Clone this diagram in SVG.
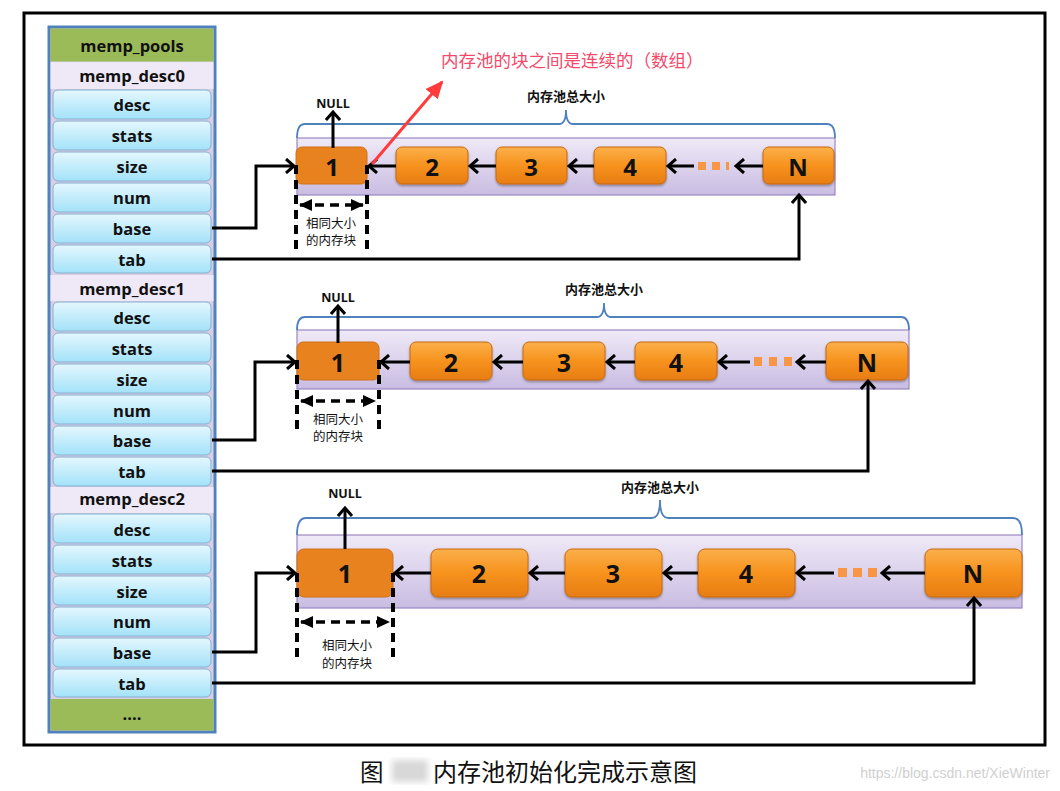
<svg xmlns="http://www.w3.org/2000/svg" width="1060" height="791" viewBox="0 0 1060 791">
<defs>
<style>
.lbl{font-family:"Open Sans","Liberation Sans",sans-serif;font-weight:bold;font-size:16.5px;fill:#111;text-anchor:middle;dominant-baseline:central}
.cell{fill:url(#gCell);stroke:#86aecf;stroke-width:1}
.hdr{fill:#efe8f6}
.grn{fill:#9bbb59}
.band{fill:url(#gBand);stroke:#9a86c2;stroke-width:1.2}
.brace{fill:none;stroke:#4f81bd;stroke-width:1.8}
.blk{fill:url(#gBlk);stroke:#c8690e;stroke-width:1;filter:url(#sh)}
.blk1{fill:#e8821f;stroke:#d07016;stroke-width:1}
.num{font-family:"Open Sans","Liberation Sans",sans-serif;font-weight:bold;fill:#111;text-anchor:middle;dominant-baseline:central}
.null{font-family:"Open Sans","Liberation Sans",sans-serif;font-weight:bold;font-size:12.5px;fill:#111;text-anchor:middle}
.tot{font-family:"Noto Sans CJK SC",sans-serif;font-weight:bold;font-size:13px;fill:#111;text-anchor:middle}
.same{font-family:"Noto Sans CJK SC",sans-serif;font-size:12.5px;fill:#111;text-anchor:middle}
.arr{fill:none;stroke:#000;stroke-width:3;marker-end:url(#ah)}
.dv{fill:none;stroke:#000;stroke-width:4;stroke-dasharray:9,6}
.dh{fill:none;stroke:#000;stroke-width:3.5;stroke-dasharray:9,6}
.dot{fill:#f79646}
</style>
<linearGradient id="gCell" x1="0" y1="0" x2="0" y2="1"><stop offset="0" stop-color="#e4f7fe"/><stop offset="1" stop-color="#a3e2f9"/></linearGradient>
<linearGradient id="gBand" x1="0" y1="0" x2="0" y2="1"><stop offset="0" stop-color="#efeaf7"/><stop offset="1" stop-color="#c9bce2"/></linearGradient>
<linearGradient id="gBlk" x1="0" y1="0" x2="0" y2="1"><stop offset="0" stop-color="#fbb04a"/><stop offset="0.5" stop-color="#f7921e"/><stop offset="1" stop-color="#e67d12"/></linearGradient>
<filter id="sh" x="-10%" y="-10%" width="120%" height="130%"><feDropShadow dx="0" dy="1.5" stdDeviation="1.2" flood-color="#000" flood-opacity="0.35"/></filter>
<filter id="blur"><feGaussianBlur stdDeviation="3"/></filter>
<marker id="ah" markerUnits="userSpaceOnUse" markerWidth="16" markerHeight="16" refX="10" refY="8" orient="auto"><path d="M2,1 L10,8 L2,15" fill="none" stroke="#000" stroke-width="3"/></marker>
<marker id="tri" markerUnits="userSpaceOnUse" markerWidth="14" markerHeight="14" refX="12" refY="7" orient="auto-start-reverse"><path d="M0,1 L13,7 L0,13 Z" fill="#000"/></marker>
<marker id="red" markerUnits="userSpaceOnUse" markerWidth="20" markerHeight="20" refX="16" refY="10" orient="auto"><path d="M0,2 L18,10 L0,18 Z" fill="#ff3b3b"/></marker>
</defs>
<rect x="0" y="0" width="1060" height="791" fill="#fff"/>
<rect x="24" y="13" width="1021" height="732" fill="#fff" stroke="#000" stroke-width="3"/>

<g id="memp_pools">
<rect x="49" y="27" width="166" height="705" fill="#d9cfe5" stroke="#4f81bd" stroke-width="3"/>
<rect class="grn" x="50.5" y="28.5" width="163" height="33"/>
<text class="lbl" x="132" y="45">memp_pools</text>
<rect class="hdr" x="50.5" y="62" width="163" height="27"/>
<text class="lbl" x="132" y="75">memp_desc0</text>
<rect class="cell" x="53" y="90" width="158" height="29" rx="5"/><text class="lbl" x="132" y="104">desc</text>
<rect class="cell" x="53" y="121" width="158" height="29" rx="5"/><text class="lbl" x="132" y="135">stats</text>
<rect class="cell" x="53" y="152" width="158" height="29" rx="5"/><text class="lbl" x="132" y="166">size</text>
<rect class="cell" x="53" y="183" width="158" height="29" rx="5"/><text class="lbl" x="132" y="197">num</text>
<rect class="cell" x="53" y="214" width="158" height="29" rx="5"/><text class="lbl" x="132" y="228">base</text>
<rect class="cell" x="53" y="245" width="158" height="28" rx="5"/><text class="lbl" x="132" y="259">tab</text>
<rect class="hdr" x="50.5" y="275" width="163" height="26"/>
<text class="lbl" x="132" y="288">memp_desc1</text>
<rect class="cell" x="53" y="302" width="158" height="29" rx="5"/><text class="lbl" x="132" y="317">desc</text>
<rect class="cell" x="53" y="333" width="158" height="29" rx="5"/><text class="lbl" x="132" y="348">stats</text>
<rect class="cell" x="53" y="364" width="158" height="29" rx="5"/><text class="lbl" x="132" y="379">size</text>
<rect class="cell" x="53" y="395" width="158" height="29" rx="5"/><text class="lbl" x="132" y="410">num</text>
<rect class="cell" x="53" y="426" width="158" height="29" rx="5"/><text class="lbl" x="132" y="440">base</text>
<rect class="cell" x="53" y="457" width="158" height="29" rx="5"/><text class="lbl" x="132" y="471">tab</text>
<rect class="hdr" x="50.5" y="487" width="163" height="26"/>
<text class="lbl" x="132" y="498">memp_desc2</text>
<rect class="cell" x="53" y="514" width="158" height="29" rx="5"/><text class="lbl" x="132" y="529">desc</text>
<rect class="cell" x="53" y="545" width="158" height="29" rx="5"/><text class="lbl" x="132" y="560">stats</text>
<rect class="cell" x="53" y="576" width="158" height="29" rx="5"/><text class="lbl" x="132" y="591">size</text>
<rect class="cell" x="53" y="607" width="158" height="29" rx="5"/><text class="lbl" x="132" y="621">num</text>
<rect class="cell" x="53" y="638" width="158" height="29" rx="5"/><text class="lbl" x="132" y="652">base</text>
<rect class="cell" x="53" y="669" width="158" height="28" rx="5"/><text class="lbl" x="132" y="683">tab</text>
<rect class="grn" x="50.5" y="699" width="163" height="31.5"/>
<text class="lbl" x="132" y="713">....</text>
</g>

<g id="pool0">
<rect class="band" x="297" y="138" width="538" height="57"/>
<path class="brace" d="M297,138 Q297,124 305,124 L559,124 Q566,124 566,110 Q566,124 573,124 L827,124 Q835,124 835,138"/>
<text class="tot" x="566" y="101">内存池总大小</text>
<rect class="blk1" x="296" y="147" width="71" height="37" rx="6"/><text class="num" x="332" y="166" font-size="24">1</text>
<rect class="blk" x="396" y="147" width="72" height="37" rx="6"/><text class="num" x="432" y="166" font-size="24">2</text>
<rect class="blk" x="496" y="147" width="71" height="37" rx="6"/><text class="num" x="531" y="166" font-size="24">3</text>
<rect class="blk" x="594" y="147" width="72" height="37" rx="6"/><text class="num" x="630" y="166" font-size="24">4</text>
<rect class="blk" x="763" y="147" width="71" height="37" rx="6"/><text class="num" x="798" y="166" font-size="24">N</text>
<rect class="dot" x="698" y="162" width="8" height="8"/><rect class="dot" x="712" y="162" width="8" height="8"/><rect class="dot" x="726" y="162" width="3" height="8"/>
<text class="null" x="333" y="108">NULL</text>
<text class="same" x="331" y="228">相同大小</text>
<text class="same" x="331" y="245">的内存块</text>
</g>

<g id="pool1">
<rect class="band" x="297" y="330" width="612" height="59"/>
<path class="brace" d="M297,330 Q297,317 305,317 L597,317 Q604,317 604,303 Q604,317 611,317 L901,317 Q909,317 909,330"/>
<text class="tot" x="604" y="294">内存池总大小</text>
<rect class="blk1" x="297" y="342" width="82" height="38" rx="6"/><text class="num" x="338" y="362" font-size="25">1</text>
<rect class="blk" x="410" y="342" width="82" height="38" rx="6"/><text class="num" x="451" y="362" font-size="25">2</text>
<rect class="blk" x="523" y="342" width="82" height="38" rx="6"/><text class="num" x="564" y="362" font-size="25">3</text>
<rect class="blk" x="635" y="342" width="82" height="38" rx="6"/><text class="num" x="676" y="362" font-size="25">4</text>
<rect class="blk" x="826" y="342" width="82" height="38" rx="6"/><text class="num" x="867" y="362" font-size="25">N</text>
<rect class="dot" x="754" y="357" width="8" height="9"/><rect class="dot" x="769" y="357" width="8" height="9"/><rect class="dot" x="784" y="357" width="8" height="9"/>
<text class="null" x="338" y="302">NULL</text>
<text class="same" x="338" y="424">相同大小</text>
<text class="same" x="338" y="441">的内存块</text>
</g>

<g id="pool2">
<rect class="band" x="297" y="535" width="725" height="73"/>
<path class="brace" d="M297,535 Q297,518 306,518 L652,518 Q660,518 660,500 Q660,518 668,518 L1013,518 Q1022,518 1022,535"/>
<text class="tot" x="660" y="492">内存池总大小</text>
<rect class="blk1" x="297" y="549" width="96" height="48" rx="7"/><text class="num" x="345" y="573" font-size="25">1</text>
<rect class="blk" x="431" y="549" width="97" height="48" rx="7"/><text class="num" x="479" y="573" font-size="25">2</text>
<rect class="blk" x="565" y="549" width="97" height="48" rx="7"/><text class="num" x="613" y="573" font-size="25">3</text>
<rect class="blk" x="698" y="549" width="97" height="48" rx="7"/><text class="num" x="746" y="573" font-size="25">4</text>
<rect class="blk" x="925" y="549" width="97" height="48" rx="7"/><text class="num" x="973" y="573" font-size="25">N</text>
<rect class="dot" x="838" y="568" width="9" height="9"/><rect class="dot" x="853" y="568" width="9" height="9"/><rect class="dot" x="868" y="568" width="9" height="9"/>
<text class="null" x="345" y="498">NULL</text>
<text class="same" x="347" y="650">相同大小</text>
<text class="same" x="347" y="668">的内存块</text>
</g>

<g id="connectors">
<path class="arr" d="M333,148 V112"/>
<path class="arr" d="M396,166 H369"/>
<path class="arr" d="M496,166 H470"/>
<path class="arr" d="M594,166 H569"/>
<path class="arr" d="M694,166 H668"/>
<path class="arr" d="M763,166 H736"/>
<path class="arr" d="M212,228 H256 V166 H294"/>
<path class="arr" d="M212,259 H799 V195"/>
<path class="dv" d="M296,165 V250"/><path class="dv" d="M367,165 V250"/>
<path class="dh" d="M300,205 H363" marker-start="url(#tri)" marker-end="url(#tri)"/>
<path d="M372,164 L442,82" stroke="#ff3b3b" stroke-width="3" fill="none" marker-end="url(#red)"/>
<path class="arr" d="M338,343 V306"/>
<path class="arr" d="M410,362 H381"/>
<path class="arr" d="M523,362 H494"/>
<path class="arr" d="M635,362 H607"/>
<path class="arr" d="M750,362 H719"/>
<path class="arr" d="M826,362 H797"/>
<path class="arr" d="M212,440 H255 V362 H295"/>
<path class="arr" d="M212,471 H868 V381"/>
<path class="dv" d="M297,360 V432"/><path class="dv" d="M379,360 V432"/>
<path class="dh" d="M301,401 H375" marker-start="url(#tri)" marker-end="url(#tri)"/>
<path class="arr" d="M345,549 V508"/>
<path class="arr" d="M431,573 H395"/>
<path class="arr" d="M565,573 H530"/>
<path class="arr" d="M698,573 H664"/>
<path class="arr" d="M834,573 H797"/>
<path class="arr" d="M925,573 H882"/>
<path class="arr" d="M212,652 H256 V573 H295"/>
<path class="arr" d="M212,683 H974 V598"/>
<path class="dv" d="M297,573 V658"/><path class="dv" d="M393,573 V658"/>
<path class="dh" d="M301,622 H389" marker-start="url(#tri)" marker-end="url(#tri)"/>
</g>

<text x="441" y="67" font-family="Noto Sans CJK SC,sans-serif" font-size="17.5" fill="#f5496a">内存池的块之间是连续的（数组）</text>

<g id="caption">
<text x="360" y="781" font-family="Noto Sans CJK SC,sans-serif" font-size="23.5" fill="#111">图</text>
<rect x="392" y="760" width="36" height="22" fill="#d8d8d8" filter="url(#blur)"/>
<text x="433" y="781" font-family="Noto Sans CJK SC,sans-serif" font-size="24" fill="#111">内存池初始化完成示意图</text>
<text x="1050" y="778" font-family="Liberation Sans,sans-serif" font-size="14" fill="#d0d0d0" text-anchor="end">https://blog.csdn.net/XieWinter</text>
</g>
</svg>
